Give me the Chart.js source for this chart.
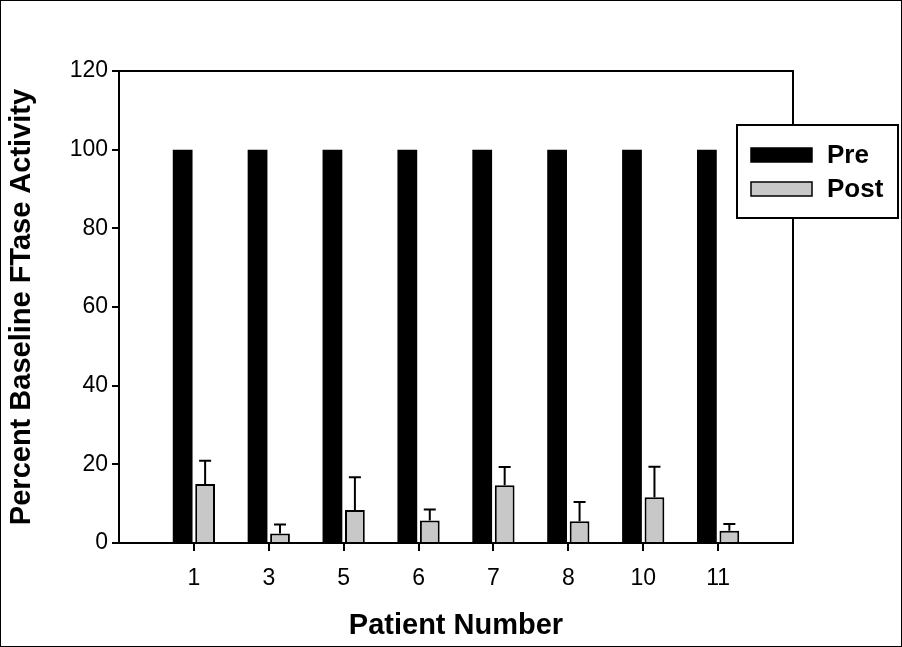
<!DOCTYPE html>
<html>
<head>
<meta charset="utf-8">
<script src="https://cdn.jsdelivr.net/npm/chart.js@4"></script>
<style>
  html, body { margin: 0; padding: 0; background: #fff; }
  #wrap { width: 900px; height: 645px; border: 1px solid #000; }
  canvas { display: block; }
</style>
</head>
<body>
<div id="wrap"><canvas id="chart" width="900" height="645"></canvas></div>
<script>
const patients = ['1', '3', '5', '6', '7', '8', '10', '11'];
const preValues = [100, 100, 100, 100, 100, 100, 100, 100];
const postValues = [15.0, 2.4, 8.4, 5.7, 14.7, 5.5, 11.6, 3.1];
const postErrors = [5.9, 2.3, 8.3, 2.8, 4.6, 4.9, 7.8, 1.7];
const yTicks = [0, 20, 40, 60, 80, 100, 120];

const FONT = '"Liberation Sans", Arial, sans-serif';

// upper error bars on the Post bars
const errorBars = {
    id: 'errorBars',
    afterDatasetsDraw(chart) {
        const ctx = chart.ctx;
        const meta = chart.getDatasetMeta(1);
        const y = chart.scales.y;
        ctx.save();
        ctx.strokeStyle = '#000';
        ctx.lineWidth = 2;
        meta.data.forEach((bar, i) => {
            const top = y.getPixelForValue(postValues[i] + postErrors[i]);
            ctx.beginPath();
            ctx.moveTo(bar.x, bar.y);
            ctx.lineTo(bar.x, top);
            ctx.moveTo(bar.x - 6, top);
            ctx.lineTo(bar.x + 6, top);
            ctx.stroke();
        });
        ctx.restore();
    }
};

// full frame around the plot and the boxed legend
const frameAndLegend = {
    id: 'frameAndLegend',
    afterDraw(chart) {
        const ctx = chart.ctx;
        const a = chart.chartArea;
        ctx.save();
        ctx.strokeStyle = '#000';
        ctx.lineWidth = 2;
        ctx.strokeRect(a.left, a.top, a.right - a.left, a.bottom - a.top);

        // legend box
        const bx = 736, by = 124, bw = 161, bh = 93;
        ctx.fillStyle = '#fff';
        ctx.fillRect(bx, by, bw, bh);
        ctx.strokeRect(bx, by, bw, bh);

        ctx.font = 'bold 26px ' + FONT;
        ctx.textBaseline = 'middle';
        chart.data.datasets.forEach((ds, i) => {
            const sy = by + 23 + i * 34;
            ctx.fillStyle = ds.backgroundColor;
            ctx.fillRect(750, sy, 61, 14);
            ctx.lineWidth = 1.5;
            ctx.strokeRect(750, sy, 61, 14);
            ctx.fillStyle = '#000';
            ctx.fillText(ds.label, 826, sy + 8);
        });
        ctx.restore();
    }
};

new Chart(document.getElementById('chart'), {
    type: 'bar',
    data: {
        datasets: [
            {
                label: 'Pre',
                data: preValues.map((v, i) => ({ x: i + 1, y: v })),
                backgroundColor: '#000000',
                borderColor: '#000000',
                borderWidth: 0
            },
            {
                label: 'Post',
                data: postValues.map((v, i) => ({ x: i + 1, y: v })),
                backgroundColor: '#c8c8c8',
                borderColor: '#000000',
                borderWidth: 2,
                borderSkipped: 'bottom'
            }
        ]
    },
    options: {
        responsive: false,
        animation: false,
        categoryPercentage: 0.6,
        barPercentage: 0.88,
        layout: { padding: { top: 70, right: 108, left: 0, bottom: 0 } },
        plugins: {
            legend: { display: false },
            tooltip: { enabled: false }
        },
        scales: {
            x: {
                type: 'linear',
                min: 0,
                max: 9,
                offset: false,
                afterBuildTicks: (scale) => {
                    scale.ticks = patients.map((p, i) => ({ value: i + 1 }));
                },
                afterFit: (scale) => { scale.height = 103; },
                ticks: {
                    callback: (v) => patients[v - 1],
                    color: '#000',
                    font: { family: FONT, size: 23 },
                    padding: 14,
                    maxRotation: 0
                },
                grid: {
                    offset: false,
                    drawOnChartArea: false,
                    drawTicks: true,
                    tickLength: 8,
                    color: '#000',
                    lineWidth: 2
                },
                border: { display: true, color: '#000', width: 2 },
                title: {
                    display: true,
                    text: 'Patient Number',
                    color: '#000',
                    font: { family: FONT, size: 29, weight: 'bold' },
                    padding: { top: 4, bottom: 3 }
                }
            },
            y: {
                min: 0,
                max: 120,
                afterBuildTicks: (scale) => {
                    scale.ticks = yTicks.map(v => ({ value: v }));
                },
                afterFit: (scale) => { scale.width = 118; },
                ticks: {
                    color: '#000',
                    font: { family: FONT, size: 23 },
                    padding: 4
                },
                grid: {
                    drawOnChartArea: false,
                    drawTicks: true,
                    tickLength: 7,
                    color: '#000',
                    lineWidth: 2
                },
                border: { display: true, color: '#000', width: 2 },
                title: {
                    display: true,
                    text: 'Percent Baseline FTase Activity',
                    color: '#000',
                    font: { family: FONT, size: 29, weight: 'bold' },
                    padding: { top: 4, bottom: 0 }
                }
            }
        }
    },
    plugins: [errorBars, frameAndLegend]
});
</script>
</body>
</html>
